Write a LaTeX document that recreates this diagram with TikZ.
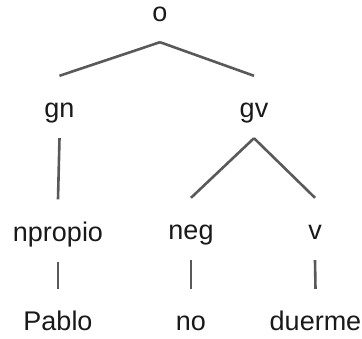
\documentclass[tikz,border=0pt]{standalone}
\usepackage{fontspec}
\setmainfont{Liberation Sans}
\begin{document}
\begin{tikzpicture}[x=1pt,y=-1pt,
  cat/.style={anchor=base,inner sep=0pt,text height=42pt,text depth=20pt,
    font=\fontsize{27}{32}\selectfont,text=black!90},
  branch/.style={draw=black!65,line width=2.6pt}]
  \useasboundingbox (0,0) rectangle (362,339);
  % nodes of the tree, placed by their baselines
  \node[cat] (o) at (160,22) {o};
  \node[cat] (gn) at (59.5,118) {gn};
  \node[cat] (gv) at (254,118) {gv};
  \node[cat] (npropio) at (58,241.5) {npropio};
  \node[cat] (neg) at (191,240) {neg};
  \node[cat] (v) at (315,240) {v};
  \node[cat] (pablo) at (58,331) {Pablo};
  \node[cat] (no) at (191,331) {no};
  \node[cat] (duerme) at (315.5,331) {duerme};
  % branches
  \draw[branch] (o.south) -- (gn.north);
  \draw[branch] (o.south) -- (gv.north);
  \draw[branch] (gn.south) -- (npropio.north);
  \draw[branch] (gv.south) -- (neg.north);
  \draw[branch] (gv.south) -- (v.north);
  \draw[branch] (npropio.south) -- (pablo.north);
  \draw[branch] (neg.south) -- (no.north);
  \draw[branch] (v.south) -- (duerme.north);
\end{tikzpicture}
\end{document}
